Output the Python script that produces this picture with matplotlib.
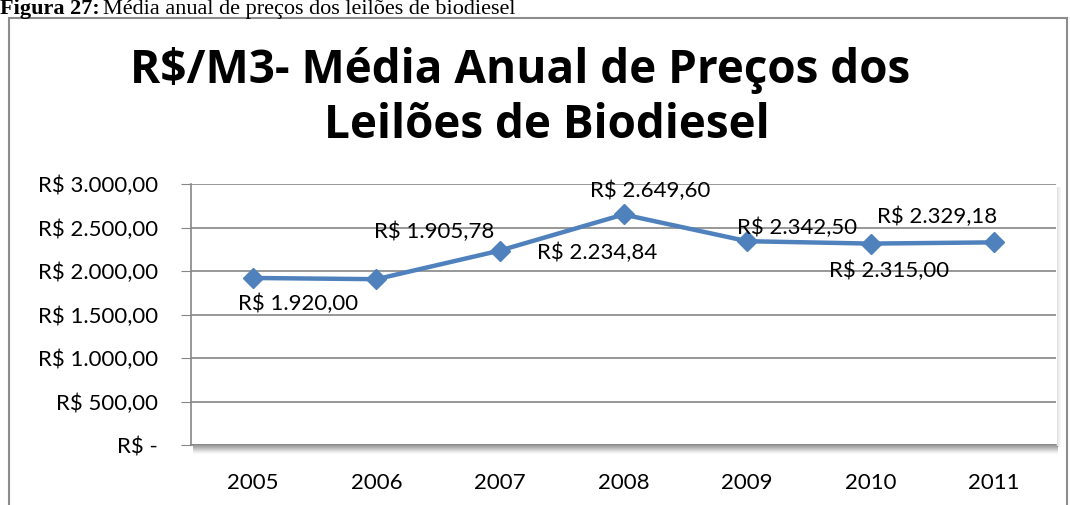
import matplotlib.pyplot as plt
from matplotlib.patches import Rectangle

anos = ["2005", "2006", "2007", "2008", "2009", "2010", "2011"]
precos = [1920.00, 1905.78, 2234.84, 2649.60, 2342.50, 2315.00, 2329.18]
rotulos = ["R$ 1.920,00", "R$ 1.905,78", "R$ 2.234,84", "R$ 2.649,60",
           "R$ 2.342,50", "R$ 2.315,00", "R$ 2.329,18"]
# label offsets (pixels) as Excel placed them
offsets = [(45, -26), (58, 47), (97, -2), (27, 24), (50, 13), (18, -27), (-57, 25)]
yticks = [0, 500, 1000, 1500, 2000, 2500, 3000]
ytick_labels = ["R$ -", "R$ 500,00", "R$ 1.000,00", "R$ 1.500,00",
                "R$ 2.000,00", "R$ 2.500,00", "R$ 3.000,00"]

W, H = 1070, 505
fig = plt.figure(figsize=(W / 100, H / 100), dpi=100)
font = "Lato"
fs = 16

# caption (cut off at top, as in the source page)
fig.text(0.0, 1 - 14 / H, "Figura 27:", family="Liberation Serif", weight="bold",
         fontsize=16, va="baseline", ha="left")
fig.text(103 / W, 1 - 14 / H, "Média anual de preços dos leilões de biodiesel",
         family="Liberation Serif", fontsize=16, va="baseline", ha="left")

# outer chart border
fig.patches.append(Rectangle((9 / W, -0.05), (1067 - 9) / W, 1 - 18 / H + 0.05,
                             transform=fig.transFigure, fill=False,
                             edgecolor="#8c8c8c", linewidth=1.5))

fig.text(520 / W, 1 - 71 / H, "R$/M3- Média Anual de Preços dos", family="Open Sans",
         weight="bold", fontsize=33, ha="center", va="center")
fig.text(547 / W, 1 - 126 / H, "Leilões de Biodiesel", family="Open Sans",
         weight="bold", fontsize=33, ha="center", va="center")

ax = fig.add_axes([191 / W, 1 - 445 / H, (1056 - 191) / W, (445 - 184) / H])

# shadow under / right of plot area
for i, a in enumerate([0.35, 0.3, 0.25, 0.2, 0.15, 0.1, 0.06, 0.03]):
    fig.patches.append(Rectangle((193 / W, 1 - (447 + i) / H), (1058 - 193) / W, 1 / H,
                                 transform=fig.transFigure, color="black", alpha=a,
                                 linewidth=0, zorder=0))
for i, a in enumerate([0.12, 0.08, 0.05, 0.03]):
    fig.patches.append(Rectangle(((1057 + i) / W, 1 - 447 / H), 1 / W, (447 - 187) / H,
                                 transform=fig.transFigure, color="black", alpha=a,
                                 linewidth=0, zorder=0))

x = list(range(len(anos)))
ax.plot(x, precos, color="#4F81BD", linewidth=3.2, marker="D", markersize=10,
        zorder=3, clip_on=False)
for xi, yi, lab, (dx, dy) in zip(x, precos, rotulos, offsets):
    ax.annotate(lab, (xi, yi), xytext=(dx * 0.72, dy * 0.72), textcoords="offset points",
                ha="center", va="center", family=font, fontsize=fs, zorder=4)

ax.set_xlim(-0.5, 6.5)
ax.set_ylim(0, 3000)
ax.set_yticks(yticks)
ax.set_yticklabels(ytick_labels, family=font, fontsize=fs)
ax.set_xticks(x)
ax.set_xticklabels(anos, family=font, fontsize=fs)
ax.grid(axis="y", color="#868686", linewidth=1.2)
ax.set_axisbelow(True)
for s in ["top", "right"]:
    ax.spines[s].set_visible(False)
ax.spines["left"].set_color("#868686")
ax.spines["bottom"].set_color("#868686")
ax.spines["left"].set_linewidth(1.2)
ax.spines["bottom"].set_linewidth(1.2)
ax.tick_params(axis="y", length=7, color="#868686", pad=17)
ax.tick_params(axis="x", length=0, pad=20)

fig.savefig("out.png", dpi=100)
